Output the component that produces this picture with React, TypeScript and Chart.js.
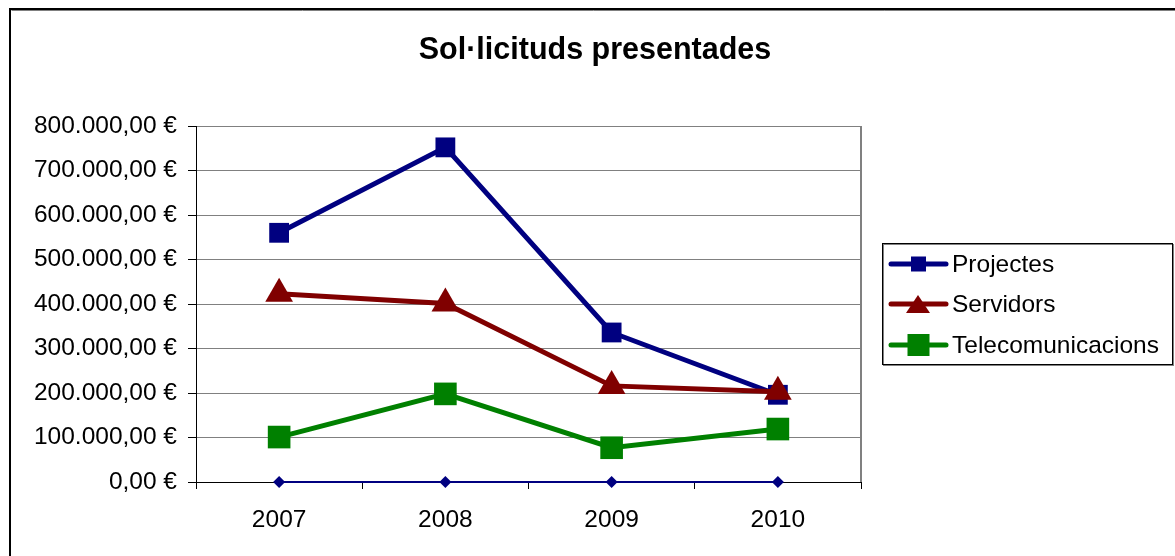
import React, { useEffect, useRef } from "react";
import { Chart, registerables } from "chart.js";

Chart.register(...registerables);

const categories = ["2007", "2008", "2009", "2010"];
const projectes = [560000, 752000, 336000, 196000];
const servidors = [423000, 401000, 216000, 203000];
const telecomunicacions = [101000, 198000, 77000, 119000];
const baseSeries = [0, 0, 0, 0];
const titleText = "Sol·licituds presentades";
const FONT = "'Liberation Sans', Arial, sans-serif";

const fmt = (v: number) => {
  const s = Math.round(v).toString().replace(/\B(?=(\d{3})+(?!\d))/g, ".");
  return s + ",00 €";
};

const decorPlugin = {
  id: "decor",
  beforeDraw(chart: any) {
    const ctx = chart.ctx;
    ctx.save();
    ctx.fillStyle = "#fff";
    ctx.fillRect(0, 0, chart.width, chart.height);
    ctx.restore();
  },
  afterDraw(chart: any) {
    const ctx = chart.ctx;
    const ca = chart.chartArea;
    ctx.save();
    // outer border
    ctx.strokeStyle = "#000";
    ctx.lineWidth = 2;
    ctx.strokeRect(10, 9, chart.width + 20, chart.height + 20);
    ctx.strokeStyle = "#808080";
    ctx.lineWidth = 1;
    ctx.beginPath();
    ctx.moveTo(11.5, 10.5);
    ctx.lineTo(chart.width, 10.5);
    ctx.stroke();
    // right plot border
    ctx.strokeStyle = "#808080";
    ctx.lineWidth = 2;
    ctx.beginPath();
    ctx.moveTo(ca.right, ca.top);
    ctx.lineTo(ca.right, ca.bottom);
    ctx.stroke();
    // title
    ctx.fillStyle = "#000";
    ctx.font = "bold 30.5px " + FONT;
    ctx.textAlign = "center";
    ctx.textBaseline = "alphabetic";
    ctx.fillText(titleText, 595, 59);
    // legend
    const lx = 882, ly = 243, lw = 290, lh = 121;
    ctx.fillStyle = "#fff";
    ctx.fillRect(lx, ly, lw, lh);
    ctx.strokeStyle = "#808080";
    ctx.lineWidth = 1;
    ctx.strokeRect(lx + 1.5, ly + 1.5, lw, lh);
    ctx.strokeStyle = "#000";
    ctx.strokeRect(lx + 0.5, ly + 0.5, lw, lh);
    const rows = [264, 304, 345];
    const ds = chart.data.datasets.slice(0, 3);
    ds.forEach((d: any, i: number) => {
      const y = rows[i];
      ctx.strokeStyle = d.borderColor;
      ctx.lineWidth = 5;
      ctx.lineCap = "round";
      ctx.beginPath();
      ctx.moveTo(891, y);
      ctx.lineTo(946, y);
      ctx.stroke();
      ctx.fillStyle = d.borderColor;
      if (d.pointStyle === "triangle") {
        ctx.beginPath();
        ctx.moveTo(918, y - 9);
        ctx.lineTo(930, y + 9);
        ctx.lineTo(906, y + 9);
        ctx.closePath();
        ctx.fill();
      } else {
        const s = i === 2 ? 22 : 15;
        ctx.fillRect(918.5 - s / 2, y - s / 2, s, s);
      }
      ctx.fillStyle = "#000";
      ctx.font = "24.5px " + FONT;
      ctx.textAlign = "left";
      ctx.textBaseline = "middle";
      ctx.fillText(d.label, 952, y + 1);
    });
    ctx.restore();
  },
};

export default function App() {
  const ref = useRef<HTMLCanvasElement | null>(null);
  useEffect(() => {
    if (!ref.current) return;
    const chart = new Chart(ref.current, {
      type: "line",
      data: {
        labels: categories,
        datasets: [
          {
            label: "Projectes",
            data: projectes,
            borderColor: "#000080",
            backgroundColor: "#000080",
            borderWidth: 5,
            pointStyle: "rect",
            pointRadius: 14,
            pointBorderWidth: 0,
            clip: false,
            order: 3,
          },
          {
            label: "Servidors",
            data: servidors,
            borderColor: "#800000",
            backgroundColor: "#800000",
            borderWidth: 5,
            pointStyle: "triangle",
            pointRadius: 16,
            pointBorderWidth: 0,
            clip: false,
            order: 2,
          },
          {
            label: "Telecomunicacions",
            data: telecomunicacions,
            borderColor: "#008000",
            backgroundColor: "#008000",
            borderWidth: 5,
            pointStyle: "rect",
            pointRadius: 16,
            pointBorderWidth: 0,
            clip: false,
            order: 1,
          },
          {
            label: "",
            data: baseSeries,
            borderColor: "#000080",
            backgroundColor: "#000080",
            borderWidth: 2,
            pointStyle: "rectRot",
            pointRadius: 6,
            pointBorderWidth: 0,
            clip: false,
            order: 0,
          },
        ],
      },
      options: {
        responsive: false,
        animation: false,
        devicePixelRatio: 1,
        layout: { padding: { left: 0, top: 126, right: 314, bottom: 0 } },
        plugins: {
          legend: { display: false },
          title: { display: false },
          tooltip: { enabled: false },
        },
        scales: {
          x: {
            offset: true,
            afterFit: (s: any) => {
              s.height = 74;
            },
            grid: {
              display: true,
              drawOnChartArea: false,
              drawTicks: true,
              tickLength: 7,
              offset: true,
              color: "#000",
              tickColor: "#000",
            },
            border: { display: true, color: "#000", width: 1 },
            ticks: {
              color: "#000",
              font: { family: FONT, size: 24.5 },
              padding: 17,
            },
          },
          y: {
            min: 0,
            max: 800000,
            afterFit: (s: any) => {
              s.width = 196;
            },
            grid: {
              color: "#808080",
              tickColor: "#000",
              tickLength: 8,
              drawTicks: true,
            },
            border: { display: true, color: "#000", width: 1 },
            ticks: {
              stepSize: 100000,
              color: "#000",
              font: { family: FONT, size: 24.5 },
              padding: 11,
              callback: (v: any) => fmt(Number(v)),
            },
          },
        },
      },
      plugins: [decorPlugin],
    });
    return () => chart.destroy();
  }, []);
  return (
    <div style={{ position: "fixed", left: 0, top: 0, width: 1175, height: 556 }}>
      <canvas ref={ref} width={1175} height={556} style={{ display: "block" }} />
    </div>
  );
}
